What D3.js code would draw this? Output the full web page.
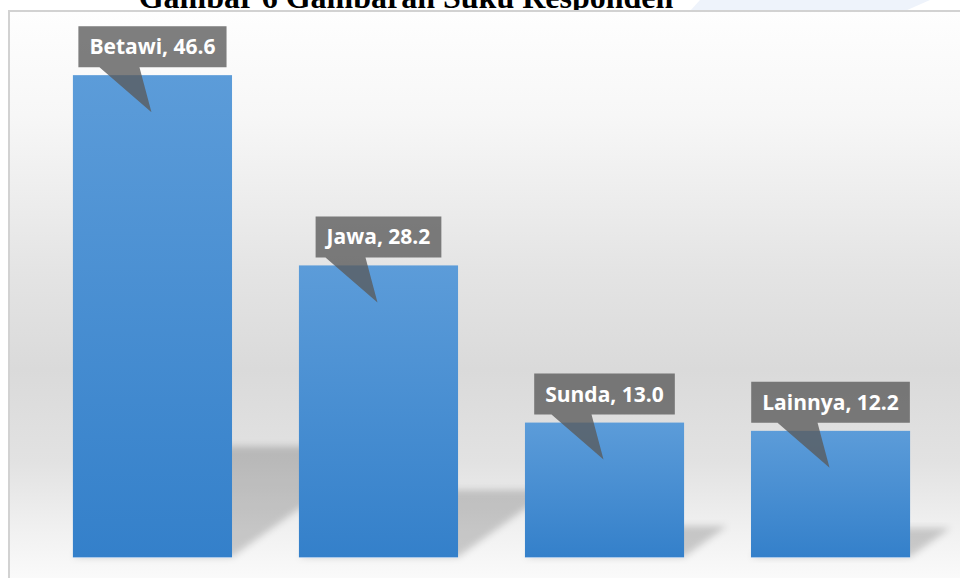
<!DOCTYPE html>
<html>
<head>
<meta charset="utf-8">
<script src="https://cdn.jsdelivr.net/npm/d3@7/dist/d3.min.js"></script>
<style>
  html, body { margin: 0; padding: 0; background: #ffffff; }
  svg { display: block; }
</style>
</head>
<body>
<svg id="chart" width="960" height="578"></svg>
<script>
// Respondent ethnicity shares (%)
const categories = ["Betawi", "Jawa", "Sunda", "Lainnya"];
const values = [46.6, 28.2, 13.0, 12.2];
const yDomain = [0, 50];
const titleText = "Gambar 6 Gambaran Suku Responden";

const W = 960, H = 578;
const svg = d3.select("#chart");
const defs = svg.append("defs");

// Plot-area background: vertical grey wash
const bg = defs.append("linearGradient").attr("id", "bgGrad")
  .attr("x1", 0).attr("y1", 0).attr("x2", 0).attr("y2", 1);
[[0, "#fefefe"], [0.18, "#f7f7f7"], [0.45, "#e4e4e4"], [0.62, "#dadada"],
 [0.78, "#e2e2e2"], [0.9, "#f1f1f1"], [1, "#fcfcfc"]]
  .forEach(([o, c]) => bg.append("stop").attr("offset", o).attr("stop-color", c));

// Bar fill
const barGrad = defs.append("linearGradient").attr("id", "barGrad")
  .attr("x1", 0).attr("y1", 0).attr("x2", 0).attr("y2", 1);
barGrad.append("stop").attr("offset", 0).attr("stop-color", "#5c9cd9");
barGrad.append("stop").attr("offset", 1).attr("stop-color", "#3480ca");

// Soft shadow blur
defs.append("filter").attr("id", "shadowBlur")
  .attr("x", "-20%").attr("y", "-20%").attr("width", "140%").attr("height", "140%")
  .append("feGaussianBlur").attr("stdDeviation", 3.5);

// Faint decoration strip behind the title
svg.append("path")
  .attr("d", "M700,0 L930,0 L905,11 L690,11 Z")
  .attr("fill", "#eef3fb");

// Title (runs off the top edge of the page)
svg.append("text")
  .attr("x", 406).attr("y", 8)
  .attr("text-anchor", "middle")
  .attr("font-family", "'Liberation Serif', 'Times New Roman', serif")
  .attr("font-weight", "bold")
  .attr("font-size", 32)
  .attr("fill", "#000")
  .text(titleText);

// Chart frame
const frame = { x: 9, y: 11, w: 960, h: 578 };
svg.append("rect")
  .attr("x", frame.x).attr("y", frame.y)
  .attr("width", frame.w).attr("height", frame.h)
  .attr("fill", "url(#bgGrad)")
  .attr("stroke", "#d2d2d2").attr("stroke-width", 2);

// Scales
const x = d3.scaleBand().domain(categories).range([6, 977])
  .paddingInner(0.296).paddingOuter(0.296);
const y = d3.scaleLinear().domain(yDomain).range([557, 40]);
const base = y(0);

const data = categories.map((c, i) => ({ cat: c, val: values[i] }));

// Perspective shadows cast up and to the right
const kx = 0.32, ky = 0.23;
svg.append("g").selectAll("path").data(data).join("path")
  .attr("d", d => {
    const x0 = x(d.cat), x1 = x0 + x.bandwidth();
    const h = base - y(d.val);
    return `M${x0},${base} L${x1},${base} L${x1 + kx * h},${base - ky * h} L${x0 + kx * h},${base - ky * h} Z`;
  })
  .attr("fill", "#000").attr("fill-opacity", 0.18)
  .attr("filter", "url(#shadowBlur)");

// Bars
svg.append("g").selectAll("rect").data(data).join("rect")
  .attr("x", d => x(d.cat))
  .attr("y", d => y(d.val))
  .attr("width", x.bandwidth())
  .attr("height", d => base - y(d.val))
  .attr("fill", "url(#barGrad)");

// Thin light line along the bar bottoms
svg.append("g").selectAll("line").data(data).join("line")
  .attr("x1", d => x(d.cat)).attr("x2", d => x(d.cat) + x.bandwidth())
  .attr("y1", base + 0.5).attr("y2", base + 0.5)
  .attr("stroke", "#a9c8ea").attr("stroke-width", 1);

// Callout data labels
const fmt = d3.format(".1f");
const labels = svg.append("g");
data.forEach(d => {
  const cx = x(d.cat) + x.bandwidth() / 2;
  const top = y(d.val);
  const g = labels.append("g");
  const t = g.append("text")
    .attr("font-family", "'Open Sans', Lato, sans-serif")
    .attr("font-weight", "bold")
    .attr("font-size", 21)
    .attr("fill", "#ffffff")
    .attr("text-anchor", "middle")
    .attr("x", cx)
    .text(`${d.cat}, ${fmt(d.val)}`);
  const tw = t.node().getComputedTextLength();
  const bw = tw + 22, bh = 41;
  const bx = cx - bw / 2, by = top - 8 - bh;
  const tipX = cx - 1, tipY = top + 37;
  const p = d3.path();
  p.moveTo(bx, by);
  p.lineTo(bx + bw, by);
  p.lineTo(bx + bw, by + bh);
  p.lineTo(tipX - 12, by + bh);
  p.lineTo(tipX, tipY);
  p.lineTo(tipX - 52, by + bh);
  p.lineTo(bx, by + bh);
  p.closePath();
  g.insert("path", "text")
    .attr("d", p.toString())
    .attr("fill", "#5a5a5a").attr("fill-opacity", 0.78);
  t.attr("y", by + bh / 2 + 7.5);
});
</script>
</body>
</html>
